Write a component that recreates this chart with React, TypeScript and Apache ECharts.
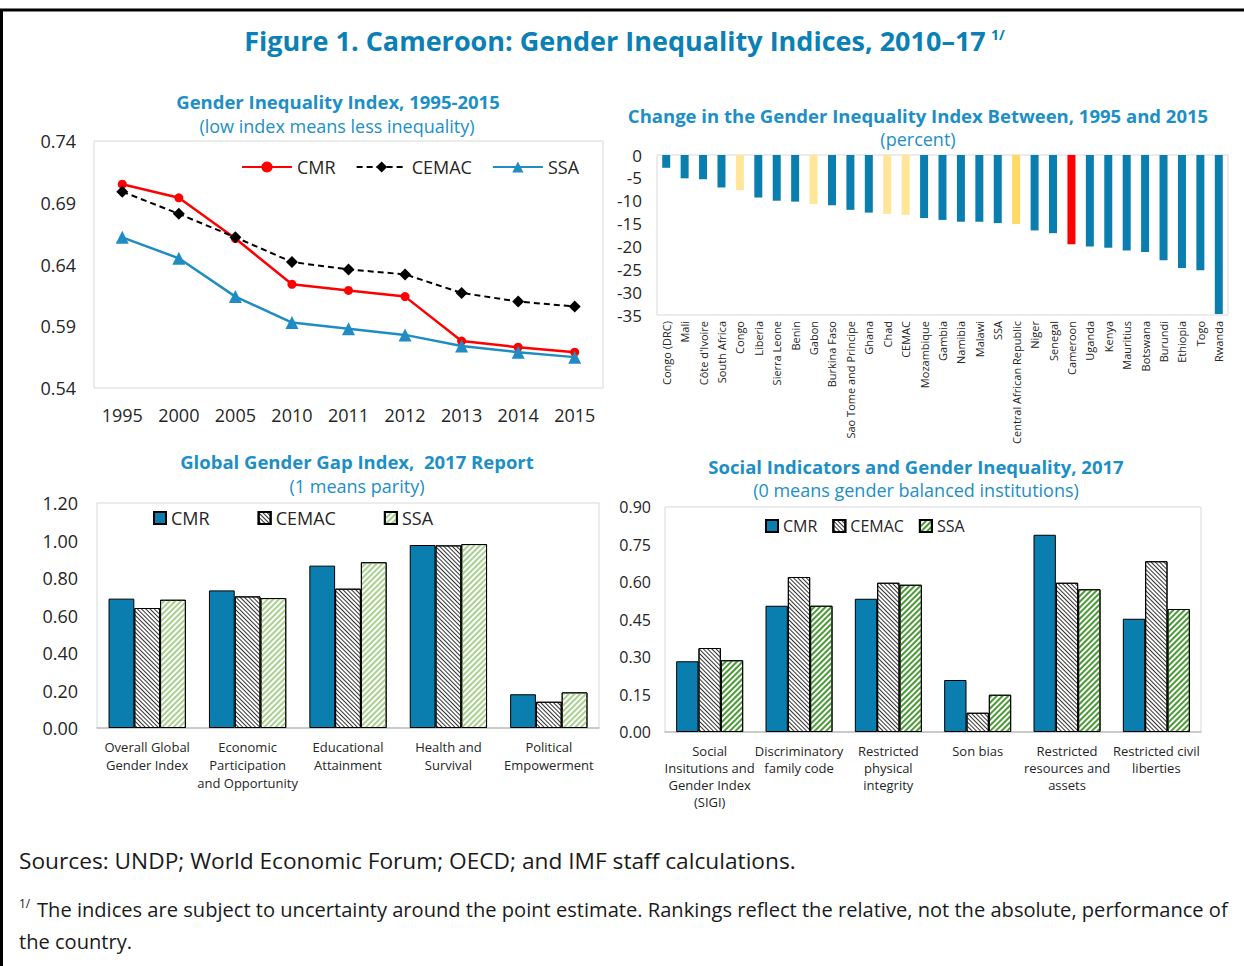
import React, { useEffect, useRef } from 'react';
import * as echarts from 'echarts';

// ---------- DATA ----------
const years = ['1995', '2000', '2005', '2010', '2011', '2012', '2013', '2014', '2015'];
const giiCMR = [0.705, 0.694, 0.661, 0.624, 0.619, 0.614, 0.578, 0.573, 0.569];
const giiCEMAC = [0.699, 0.681, 0.662, 0.642, 0.636, 0.632, 0.617, 0.61, 0.606];
const giiSSA = [0.662, 0.645, 0.614, 0.593, 0.588, 0.583, 0.574, 0.569, 0.565];

const countries = ['Congo (DRC)', 'Mali', "Côte d'Ivoire", 'South Africa', 'Congo', 'Liberia', 'Sierra Leone', 'Benin', 'Gabon', 'Burkina Faso', 'Sao Tome and Principe', 'Ghana', 'Chad', 'CEMAC', 'Mozambique', 'Gambia', 'Namibia', 'Malawi', 'SSA', 'Central African Republic', 'Niger', 'Senegal', 'Cameroon', 'Uganda', 'Kenya', 'Mauritius', 'Botswana', 'Burundi', 'Ethiopia', 'Togo', 'Rwanda'];
const giiChange = [-2.8, -5.1, -5.3, -7.1, -7.7, -9.3, -10.0, -10.2, -10.7, -11.0, -12.0, -12.6, -12.9, -13.1, -13.8, -14.2, -14.6, -14.6, -14.9, -15.1, -16.5, -17.1, -19.5, -20.0, -20.3, -20.9, -21.2, -23.0, -24.7, -25.2, -34.8];
const lightHighlight = ['Congo', 'Gabon', 'Chad', 'CEMAC'];
const darkHighlight = ['Central African Republic'];
const redHighlight = ['Cameroon'];

const gggCategories = ['Overall Global\nGender Index', 'Economic\nParticipation\nand Opportunity', 'Educational\nAttainment', 'Health and\nSurvival', 'Political\nEmpowerment'];
const gggCMR = [0.69, 0.734, 0.866, 0.976, 0.18];
const gggCEMAC = [0.64, 0.702, 0.743, 0.974, 0.14];
const gggSSA = [0.684, 0.693, 0.884, 0.981, 0.19];

const sigiCategories = ['Social\nInsitutions and\nGender Index\n(SIGI)', 'Discriminatory\nfamily code', 'Restricted\nphysical\nintegrity', 'Son bias', 'Restricted\nresources and\nassets', 'Restricted civil\nliberties'];
const sigiCMR = [0.283, 0.505, 0.533, 0.208, 0.789, 0.453];
const sigiCEMAC = [0.336, 0.62, 0.597, 0.077, 0.597, 0.683];
const sigiSSA = [0.287, 0.505, 0.589, 0.149, 0.571, 0.492];

const ticksGII = [0.54, 0.74, 0.05];
const ticksChange = [-35, 0, 5];
const ticksGGG = [0, 1.2, 0.2];
const ticksSIGI = [0, 0.9, 0.15];

// ---------- STYLE ----------
const FONT = '"Open Sans", "Noto Sans", sans-serif';
const TXT = '#262626';
const BLUE = '#0A7FAF';
const TITLE = '#0A80B4';
const SUB = '#1C8FC6';

const txt = (text: string, x: number, y: number, size: number, color: string, weight = 'normal', align = 'center') => ({
  type: 'text',
  silent: true,
  style: {
    text,
    x,
    y,
    fill: color,
    font: `${weight} ${size}px ${FONT}`,
    align,
    verticalAlign: 'middle',
  },
});

const decalCEMAC = {
  symbol: 'rect',
  symbolSize: 1,
  color: '#333333',
  dashArrayX: [1, 0],
  dashArrayY: [1, 2],
  rotation: Math.PI / 4,
};
const decalSSA = (c: string) => ({
  symbol: 'rect',
  symbolSize: 1,
  color: c,
  dashArrayX: [1, 0],
  dashArrayY: [2, 2],
  rotation: -Math.PI / 4,
});

const nm = (n: string) => n.split('_')[0];

export default function App() {
  const ref = useRef<HTMLDivElement>(null);
  useEffect(() => {
    if (!ref.current) return;
    const chart = echarts.init(ref.current, null, { renderer: 'svg' });

    const changeData = giiChange.map((v, i) => {
      const c = countries[i];
      let color = BLUE;
      if (lightHighlight.includes(c)) color = '#FFE699';
      if (darkHighlight.includes(c)) color = '#FFD966';
      if (redHighlight.includes(c)) color = '#FF0000';
      return { value: v, itemStyle: { color } };
    });

    const barBase = { borderColor: '#000', borderWidth: 1 };

    const option: any = {
      animation: false,
      backgroundColor: '#ffffff',
      textStyle: { fontFamily: FONT },
      grid: [
        { left: 94, top: 141, width: 509, height: 247, show: true, borderColor: '#D9D9D9', borderWidth: 1 },
        { left: 657, top: 155, width: 571, height: 160, show: true, borderColor: '#D9D9D9', borderWidth: 1 },
        { left: 97, top: 503, width: 502, height: 225, show: true, borderColor: '#D9D9D9', borderWidth: 1 },
        { left: 665, top: 507, width: 536, height: 225, show: true, borderColor: '#D9D9D9', borderWidth: 1 },
      ],
      xAxis: [
        {
          gridIndex: 0, type: 'category', data: years,
          axisLine: { show: false, onZero: false }, axisTick: { show: false },
          axisLabel: { fontSize: 18, color: TXT, margin: 18 },
        },
        {
          gridIndex: 1, type: 'category', data: countries,
          axisLine: { show: false, onZero: false }, axisTick: { show: false },
          axisLabel: { fontSize: 11, color: TXT, margin: 6, rotate: 90, interval: 0 },
        },
        {
          gridIndex: 2, type: 'category', data: gggCategories,
          axisLine: { show: true, onZero: false, lineStyle: { color: '#BFBFBF', width: 1.5 } }, axisTick: { show: false },
          axisLabel: { fontSize: 13, color: TXT, margin: 10, lineHeight: 18, interval: 0 },
        },
        {
          gridIndex: 3, type: 'category', data: sigiCategories,
          axisLine: { show: true, onZero: false, lineStyle: { color: '#BFBFBF', width: 1.5 } }, axisTick: { show: false },
          axisLabel: { fontSize: 13, color: TXT, margin: 10, lineHeight: 17, interval: 0 },
        },
      ],
      yAxis: [
        {
          gridIndex: 0, type: 'value', min: ticksGII[0], max: ticksGII[1], interval: ticksGII[2],
          splitLine: { show: false }, axisLine: { show: false }, axisTick: { show: false },
          axisLabel: { fontSize: 18, color: TXT, margin: 18, formatter: (v: number) => v.toFixed(2) },
        },
        {
          gridIndex: 1, type: 'value', min: ticksChange[0], max: ticksChange[1], interval: ticksChange[2],
          splitLine: { show: false }, axisLine: { show: false }, axisTick: { show: false },
          axisLabel: { fontSize: 17, color: TXT, margin: 15 },
        },
        {
          gridIndex: 2, type: 'value', min: ticksGGG[0], max: ticksGGG[1], interval: ticksGGG[2],
          splitLine: { show: false }, axisLine: { show: false }, axisTick: { show: false },
          axisLabel: { fontSize: 18, color: TXT, margin: 19, formatter: (v: number) => v.toFixed(2) },
        },
        {
          gridIndex: 3, type: 'value', min: ticksSIGI[0], max: ticksSIGI[1], interval: ticksSIGI[2],
          splitLine: { show: false }, axisLine: { show: false }, axisTick: { show: false },
          axisLabel: { fontSize: 16, color: TXT, margin: 14, formatter: (v: number) => v.toFixed(2) },
        },
      ],
      legend: [
        {
          data: ['CMR_1', 'CEMAC_1', 'SSA_1'], left: 236, top: 153, itemWidth: 50, itemHeight: 14, itemGap: 20,
          textStyle: { fontSize: 18, color: TXT }, formatter: nm, selectedMode: false,
        },
        {
          data: ['CMR_2', 'CEMAC_2', 'SSA_2'], left: 148, top: 504, itemWidth: 12, itemHeight: 12, itemGap: 48,
          icon: 'rect', textStyle: { fontSize: 18, color: TXT }, formatter: nm, selectedMode: false,
        },
        {
          data: ['CMR_3', 'CEMAC_3', 'SSA_3'], left: 760, top: 513, itemWidth: 12, itemHeight: 12, itemGap: 15,
          icon: 'rect', textStyle: { fontSize: 16, color: TXT }, formatter: nm, selectedMode: false,
        },
      ],
      series: [
        {
          name: 'CMR_1', type: 'line', xAxisIndex: 0, yAxisIndex: 0, data: giiCMR,
          symbol: 'circle', symbolSize: 9, color: '#FF0000',
          lineStyle: { color: '#FF0000', width: 2.5 }, itemStyle: { color: '#FF0000' },
        },
        {
          name: 'CEMAC_1', type: 'line', xAxisIndex: 0, yAxisIndex: 0, data: giiCEMAC,
          symbol: 'diamond', symbolSize: 12, color: '#000',
          lineStyle: { color: '#000', width: 2, type: [6, 4] }, itemStyle: { color: '#000' },
        },
        {
          name: 'SSA_1', type: 'line', xAxisIndex: 0, yAxisIndex: 0, data: giiSSA,
          symbol: 'triangle', symbolSize: 13, color: '#1F8DC4',
          lineStyle: { color: '#1F8DC4', width: 2.5 }, itemStyle: { color: '#1F8DC4' },
        },
        {
          name: 'change', type: 'bar', xAxisIndex: 1, yAxisIndex: 1, data: changeData, barWidth: 8,
        },
        {
          name: 'CMR_2', type: 'bar', xAxisIndex: 2, yAxisIndex: 2, data: gggCMR, barGap: '0%', barCategoryGap: '23%',
          itemStyle: { ...barBase, color: BLUE },
        },
        {
          name: 'CEMAC_2', type: 'bar', xAxisIndex: 2, yAxisIndex: 2, data: gggCEMAC, barGap: '0%', barCategoryGap: '23%',
          itemStyle: { ...barBase, color: '#ffffff', decal: decalCEMAC },
        },
        {
          name: 'SSA_2', type: 'bar', xAxisIndex: 2, yAxisIndex: 2, data: gggSSA, barGap: '0%', barCategoryGap: '23%',
          itemStyle: { ...barBase, color: '#ffffff', decal: decalSSA('#A9D18E') },
        },
        {
          name: 'CMR_3', type: 'bar', xAxisIndex: 3, yAxisIndex: 3, data: sigiCMR, barGap: '0%', barCategoryGap: '25%',
          itemStyle: { ...barBase, color: BLUE },
        },
        {
          name: 'CEMAC_3', type: 'bar', xAxisIndex: 3, yAxisIndex: 3, data: sigiCEMAC, barGap: '0%', barCategoryGap: '25%',
          itemStyle: { ...barBase, color: '#ffffff', decal: decalCEMAC },
        },
        {
          name: 'SSA_3', type: 'bar', xAxisIndex: 3, yAxisIndex: 3, data: sigiSSA, barGap: '0%', barCategoryGap: '25%',
          itemStyle: { ...barBase, color: '#ffffff', decal: decalSSA('#4A9A35') },
        },
      ],
      graphic: [
        {
          type: 'rect', silent: true, z: -10,
          shape: { x: 1.5, y: 10, width: 1300, height: 1000 },
          style: { fill: 'none', stroke: '#000', lineWidth: 3 },
        },
        txt('Figure 1. Cameroon: Gender Inequality Indices, 2010–17', 615, 40, 27, TITLE, 'bold'),
        txt('1/', 991, 34, 14, TITLE, 'bold', 'left'),
        txt('Gender Inequality Index, 1995-2015', 338, 101, 18.5, SUB, 'bold'),
        txt('(low index means less inequality)', 337, 126, 18, SUB),
        txt('Change in the Gender Inequality Index Between, 1995 and 2015', 918, 115, 18.5, SUB, 'bold'),
        txt('(percent)', 918, 139, 18, SUB),
        txt('Global Gender Gap Index,  2017 Report', 357, 461, 18.5, SUB, 'bold'),
        txt('(1 means parity)', 357, 486, 18, SUB),
        txt('Social Indicators and Gender Inequality, 2017', 916, 466, 18.5, SUB, 'bold'),
        txt('(0 means gender balanced institutions)', 916, 490, 18, SUB),
        txt('Sources: UNDP; World Economic Forum; OECD; and IMF staff calculations.', 19, 860, 22.7, '#1a1a1a', 'normal', 'left'),
        txt('1/', 19, 903, 12, '#1a1a1a', 'normal', 'left'),
        txt('The indices are subject to uncertainty around the point estimate. Rankings reflect the relative, not the absolute, performance of', 37, 909, 20.1, '#1a1a1a', 'normal', 'left'),
        txt('the country.', 19, 941, 20.1, '#1a1a1a', 'normal', 'left'),
      ],
    };
    chart.setOption(option);
    return () => chart.dispose();
  }, []);

  return (
    <div
      ref={ref}
      style={{ position: 'absolute', left: 0, top: 0, width: 1244, height: 966, background: '#fff' }}
    />
  );
}
